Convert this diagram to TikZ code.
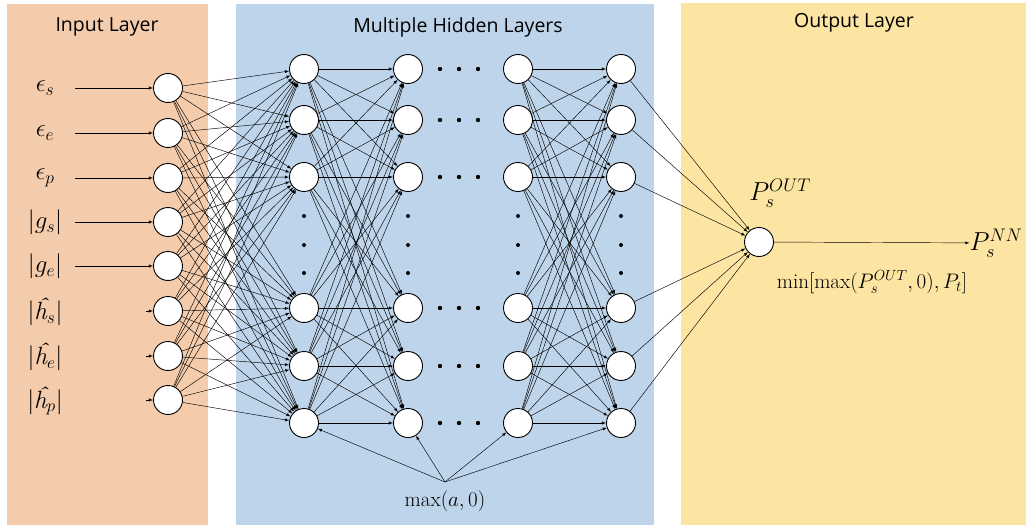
\RequirePackage{fix-cm}
\documentclass[tikz,border=0pt]{standalone}
\usepackage{amsmath, amsfonts}
\usepackage{fontspec}
\setsansfont{Open Sans}
\usepackage{tikz}
\usetikzlibrary{arrows, positioning}
\usetikzlibrary{calc}
\usepackage{xcolor}
\definecolor{inputbg}{RGB}{244,204,172}
\definecolor{hiddenbg}{RGB}{190,212,234}
\definecolor{outputbg}{RGB}{252,229,162}
\newcommand{\hh}{\text{\itshape ĥ}}

\begin{document}
\begin{tikzpicture}[x=1pt,y=-1pt,
		neuron/.style={circle,draw,fill=white,minimum size=29pt,inner sep=0pt,line width=0.9pt},
		link/.style={-latex,line width=0.45pt},
		title/.style={font=\sffamily\fontsize{19.5}{22}\selectfont},
		lab/.style={inner sep=0pt,font=\fontsize{25}{28}\selectfont},
		note/.style={inner sep=1pt,font=\fontsize{21}{24}\selectfont}]
		\useasboundingbox (0,0) rectangle (1026,527);
		% layer backgrounds
		\fill[inputbg] (7,4) rectangle (208,525);
		\fill[hiddenbg] (236,4) rectangle (654,525);
		\fill[outputbg] (681,3) rectangle (1026,525);
		\draw (107,27) node[title] (tin) {Input Layer}
		(458,27) node[title] (thid) {Multiple Hidden Layers}
		(854,23) node[title] (tout) {Output Layer};
		
		% input neurons and their labels
		\foreach \n/\y in {1/88,2/133,3/178,4/222,5/266,6/311,7/356,8/400}
			\node[neuron] (i\n) at (168,\y) {};
		\draw (45,88) node[lab] (l1) {$\epsilon_s$}
		(45,133) node[lab] (l2) {$\epsilon_e$}
		(45,178) node[lab] (l3) {$\epsilon_p$}
		(45,222) node[lab] (l4) {$|g_s|$}
		(45,266) node[lab] (l5) {$|g_e|$}
		(45,312) node[lab] (l6) {$|\hh_s|$}
		(45,357) node[lab] (l7) {$|\hh_e|$}
		(45,401) node[lab] (l8) {$|\hh_p|$};
		\foreach \n/\y in {1/88,2/133,3/178,4/222,5/266}
			\coordinate (s\n) at (75,\y);
		\foreach \n/\y in {6/311,7/356,8/400}
			\coordinate (s\n) at (146,\y);
		\foreach \n in {1,...,8}
			\draw[link] (s\n) -- (i\n);
		
		% hidden columns
		\foreach \col/\x in {a/304,b/408,c/518,d/621}
			\foreach \n/\y in {1/69,2/120,3/177,4/308,5/366,6/423}
				\node[neuron] (\col\n) at (\x,\y) {};
		\foreach \x in {304,408,518,621}
			\foreach \y in {216,245,273}
				\fill (\x,\y) circle (2pt);
		\foreach \y in {69,120,177,308,366,423}
			\foreach \x in {440,459,478}
				\fill (\x,\y) circle (2.2pt);
		
		% connections
		\foreach \i in {1,...,8}
			\foreach \j in {1,...,6}
				\draw[link] (i\i) -- (a\j);
		\foreach \i in {1,...,6}
			\foreach \j in {1,...,6}
				\draw[link] (a\i) -- (b\j);
		\foreach \i in {1,...,6}
			\foreach \j in {1,...,6}
				\draw[link] (c\i) -- (d\j);
		
		% output
		\node[neuron] (o) at (759,242) {};
		\foreach \j in {1,...,6}
			\draw[link] (d\j) -- (o);
		\draw (780,193) node[lab,font=\fontsize{26}{30}\selectfont] (pout) {$P_s^{OUT}$}
		(996,243) node[lab,font=\fontsize{26}{30}\selectfont] (pnn) {$P_s^{NN}$}
		(872,282) node[note] (clip) {$\min[\max(P_s^{OUT},0),P_t]$};
		\draw[link] (o) -- (pnn);
		
		% activation
		\coordinate (m) at (445,482);
		\node[note] (relu) at (445,501) {$\max(a,0)$};
		\foreach \col in {a,b,c,d}
			\draw[link] (m) -- (\col6);
	\end{tikzpicture}
\end{document}
